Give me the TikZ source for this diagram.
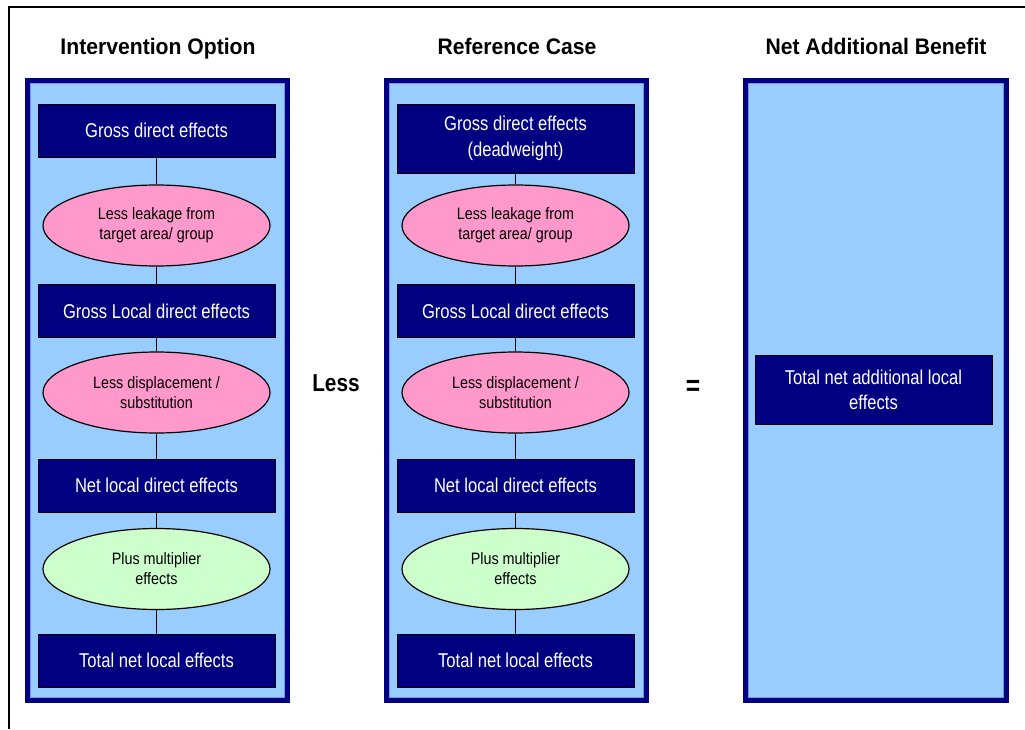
\documentclass[tikz,border=0pt]{standalone}
\usepackage{fontspec}
\setmainfont{Liberation Sans}
\newfontfamily\boxfont[FakeStretch=0.83]{Liberation Sans}
\newfontfamily\ellfont[FakeStretch=0.87]{Liberation Sans}
\newfontfamily\headfont[FakeStretch=0.94]{Liberation Sans}
\newfontfamily\signfont[FakeStretch=0.85]{Liberation Sans}
\usetikzlibrary{shapes.geometric}
\definecolor{navy}{RGB}{0,0,128}
\definecolor{panelblue}{RGB}{153,204,255}
\definecolor{rimblue}{RGB}{110,150,235}
\definecolor{leakpink}{RGB}{255,153,204}
\definecolor{multgreen}{RGB}{204,255,204}
\begin{document}
\begin{tikzpicture}[x=1pt,y=-1pt,
  effectbox/.style={rectangle, draw=black, line width=1pt, fill=navy,
    text=white, minimum width=237pt, minimum height=53pt, inner sep=2pt,
    align=center, font=\boxfont\fontsize{20}{26}\selectfont},
  adjustment/.style={ellipse, draw=black, line width=1.2pt,
    minimum width=227pt, minimum height=81pt, inner sep=0pt,
    align=center, font=\ellfont\fontsize{16.5}{20}\selectfont},
  leak/.style={adjustment, fill=leakpink},
  mult/.style={adjustment, fill=multgreen},
  heading/.style={anchor=base, font=\headfont\bfseries\fontsize{22.5}{27}\selectfont},
  sign/.style={font=\signfont\bfseries\fontsize{24.5}{29}\selectfont},
  link/.style={draw=black, line width=1pt},
  panel/.style={draw=navy, line width=5pt, fill=panelblue},
  rim/.style={draw=rimblue, line width=0.8pt}
]
\useasboundingbox (0,0) rectangle (1025,729);
\fill[white] (0,0) rectangle (1025,729);

% outer frame (top and left edges)
\draw[line width=2pt] (9,729) -- (9,6.5) -- (1025,6.5);

% column panels
\foreach \xl/\xr in {25/290, 384/649, 743/1009}{
  \draw[panel] (\xl+2.5,80.5) rectangle (\xr-2.5,700.5);
  \draw[rim] (\xl+5.4,83.4) rectangle (\xr-5.4,697.6);
}

% headings
\node[heading] (h1) at (158,54.5) {Intervention Option};
\node[heading] (h2) at (517,54.5) {Reference Case};
\node[heading] (h3) at (876,54.5) {Net Additional Benefit};

% intervention option chain
\node[effectbox] (a1) at (156.5,130.5) {Gross direct effects};
\node[leak]      (a2) at (156.5,225.5) {Less leakage from\\target area/ group};
\node[effectbox] (a3) at (156.5,311)   {Gross Local direct effects};
\node[leak]      (a4) at (156.5,392.5) {Less displacement /\\substitution};
\node[effectbox] (a5) at (156.5,485.5) {Net local direct effects};
\node[mult]      (a6) at (156.5,569)   {Plus multiplier\\effects};
\node[effectbox] (a7) at (156.5,660.5) {Total net local effects};

% reference case chain
\node[effectbox, minimum height=69pt] (b1) at (515.5,138.5) {Gross direct effects\\(deadweight)};
\node[leak]      (b2) at (515.5,225.5) {Less leakage from\\target area/ group};
\node[effectbox] (b3) at (515.5,311)   {Gross Local direct effects};
\node[leak]      (b4) at (515.5,392.5) {Less displacement /\\substitution};
\node[effectbox] (b5) at (515.5,485.5) {Net local direct effects};
\node[mult]      (b6) at (515.5,569)   {Plus multiplier\\effects};
\node[effectbox] (b7) at (515.5,660.5) {Total net local effects};

% net additional benefit
\node[effectbox, minimum height=69pt, font=\boxfont\fontsize{20}{25}\selectfont]
  (c1) at (873.5,389.5) {Total net additional local\\effects};

% operators between columns
\node[sign] (less) at (336,383) {Less};
\node[sign, font=\signfont\bfseries\fontsize{29}{33}\selectfont] (eq) at (693,388) {=};

% connectors
\foreach \p/\q in {a1/a2, a2/a3, a3/a4, a4/a5, a5/a6, a6/a7,
                   b1/b2, b2/b3, b3/b4, b4/b5, b5/b6, b6/b7}{
  \draw[link] (\p) -- (\q);
}
\end{tikzpicture}
\end{document}
